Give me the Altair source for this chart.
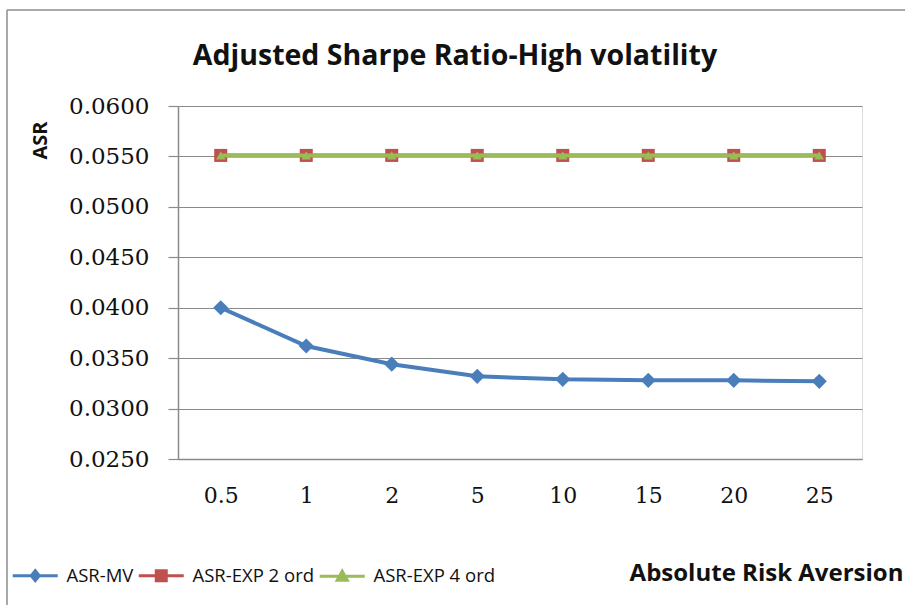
import altair as alt
import pandas as pd

categories = ["0.5", "1", "2", "5", "10", "15", "20", "25"]
asr_mv = [0.0400, 0.0362, 0.0344, 0.0332, 0.0329, 0.0328, 0.0328, 0.0327]
asr_exp2 = [0.0551, 0.0551, 0.0551, 0.0551, 0.0551, 0.0551, 0.0551, 0.0551]
asr_exp4 = [0.0551, 0.0551, 0.0551, 0.0551, 0.0551, 0.0551, 0.0551, 0.0551]
series_names = ["ASR-MV", "ASR-EXP 2 ord", "ASR-EXP 4 ord"]
series_colors = ["#4A7EBB", "#C0504D", "#9BBB59"]
y_ticks = [0.025, 0.03, 0.035, 0.04, 0.045, 0.05, 0.055, 0.06]

rows = []
for name, vals in zip(series_names, [asr_mv, asr_exp2, asr_exp4]):
    for i, (c, v) in enumerate(zip(categories, vals)):
        rows.append({"cat": c, "idx": i, "series": name, "value": v})
df = pd.DataFrame(rows)

W, H = 684, 353
SANS = "Open Sans"

x_enc = alt.X("cat:N", sort=categories, title="Absolute Risk Aversion",
              scale=alt.Scale(paddingInner=0, paddingOuter=0.5),
              axis=alt.Axis(labelAngle=0, ticks=False, grid=False,
                            labelFont="DejaVu Serif", labelFontSize=22, labelColor="#111",
                            labelPadding=26, domainColor="#8a8a8a", domainWidth=1.5,
                            titleFont=SANS, titleFontSize=24, titleFontWeight="bold",
                            titleColor="#111", titleX=588, titleY=114,
                            titleAlign="center", titleBaseline="middle"))
y_enc = alt.Y("value:Q", title="ASR",
              scale=alt.Scale(domain=[0.025, 0.06], nice=False, zero=False),
              axis=alt.Axis(values=y_ticks, format=".4f", grid=True, gridColor="#8a8a8a",
                            gridWidth=1.2, tickColor="#8a8a8a", tickSize=10, tickWidth=1.2,
                            domainColor="#8a8a8a", domainWidth=1.5,
                            labelFont="DejaVu Serif", labelFontSize=23, labelColor="#111",
                            labelPadding=19,
                            titleFont=SANS, titleFontSize=20, titleFontWeight="bold",
                            titleColor="#111", titleAngle=-90, titleX=-138, titleY=34,
                            titleAlign="center", titleBaseline="middle"))
color_scale = alt.Scale(domain=series_names, range=series_colors)

marker_shapes = ["diamond", "square", "triangle-up"]
marker_sizes = [230, 170, 90]

layers = []
for name, shp, sz in zip(series_names, marker_shapes, marker_sizes):
    base = alt.Chart(df).transform_filter(alt.datum.series == name)
    layers.append(base.mark_line(strokeWidth=4).encode(
        x=x_enc, y=y_enc,
        color=alt.Color("series:N", scale=color_scale, legend=None),
        order=alt.Order("idx:Q"),
    ))
    layers.append(base.mark_point(filled=True, opacity=1, size=sz, shape=shp).encode(
        x=x_enc, y=y_enc,
        color=alt.Color("series:N", scale=color_scale, legend=None),
    ))

legend_paths = [
    "M-4.5,0H4.5M0,-1L0.8,0L0,1L-0.8,0Z",
    "M-4.5,0H4.5M-1,-1H1V1H-1Z",
    "M-4.5,0H4.5M0,-1L1,0.8H-1Z",
]
leg = alt.Legend(orient="none", legendX=-152, legendY=460,
                 direction="horizontal", symbolSize=100,
                 symbolOpacity=1, symbolStrokeWidth=3,
                 labelFont=SANS, labelFontSize=18.5,
                 labelColor="#111", labelOffset=22,
                 columnPadding=-2, title=None)
legend_layer = alt.Chart(df).mark_point(filled=True, opacity=0, strokeWidth=3).encode(
    x=x_enc, y=y_enc,
    color=alt.Color("series:N", scale=color_scale, title=None, legend=leg),
    shape=alt.Shape("series:N", scale=alt.Scale(domain=series_names, range=legend_paths),
                    title=None, legend=leg),
)

frame_df = pd.DataFrame({"k": [0]})
left_border = alt.Chart(frame_df).mark_rule(color="#8c8c8c", strokeWidth=1.5).encode(
    x=alt.value(-171), y=alt.value(-96), y2=alt.value(520))
top_border = alt.Chart(frame_df).mark_rule(color="#8c8c8c", strokeWidth=1.5).encode(
    x=alt.value(-171), x2=alt.value(760), y=alt.value(-96))

chart = alt.layer(left_border, top_border, legend_layer, *layers).properties(
    width=W, height=H,
    title=alt.TitleParams("Adjusted Sharpe Ratio-High volatility", font=SANS,
                          fontSize=28.5, fontWeight="bold", color="#111",
                          anchor="middle", frame="group", dx=-65, offset=-61),
    autosize=alt.AutoSizeParams(type="none"),
    padding={"left": 178, "top": 106, "right": 43, "bottom": 146},
).configure_view(stroke=None).configure(background="white")

chart.save("out.html", embed_options={"renderer": "svg", "actions": False})
